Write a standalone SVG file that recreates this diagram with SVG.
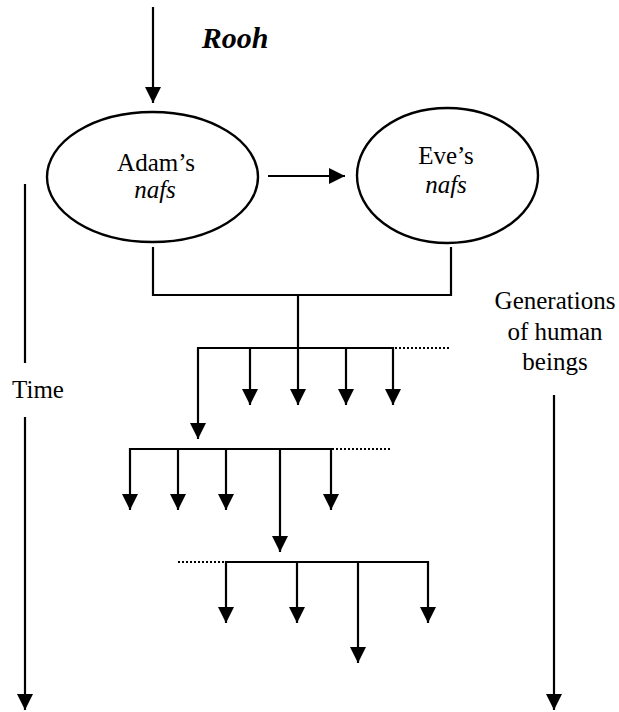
<svg xmlns="http://www.w3.org/2000/svg" width="619" height="712" viewBox="0 0 619 712">
<style>
.ln{stroke:#000;stroke-width:2.2;fill:none}
.ar{stroke:#000;stroke-width:2.2;fill:none;marker-end:url(#ah)}
.dot{stroke:#000;stroke-width:2;fill:none;stroke-dasharray:2 2}
.el{fill:#fff;stroke:#000;stroke-width:2.4}
text{font-family:"Liberation Serif","Times New Roman","DejaVu Serif",serif;font-size:25px;fill:#000;text-anchor:middle}
.i{font-style:italic}
.b{font-weight:bold;font-style:italic;font-size:30px}
</style>
<defs>
<marker id="ah" markerUnits="userSpaceOnUse" markerWidth="16" markerHeight="16" viewBox="0 0 15 15" refX="15" refY="7.5" orient="auto">
<path d="M0,0 L15,7.5 L0,15 Z" fill="#000"/>
</marker>
</defs>
<rect width="619" height="712" fill="#fff"/>
<g id="connectors">
<line class="ar" x1="153" y1="7" x2="153" y2="103"/>
<line class="ar" x1="268" y1="176" x2="345" y2="176"/>
<polyline class="ln" points="153,247 153,295 451,295 451,247"/>
<line class="ln" x1="298" y1="295" x2="298" y2="348"/>
<polyline class="ln" points="198,348 394,348"/>
<line class="dot" x1="395" y1="348" x2="451" y2="348"/>
<line class="ar" x1="198" y1="347" x2="198" y2="439"/>
<line class="ar" x1="250" y1="348" x2="250" y2="405"/>
<line class="ar" x1="298" y1="348" x2="298" y2="405"/>
<line class="ar" x1="346" y1="348" x2="346" y2="405"/>
<line class="ar" x1="393" y1="347" x2="393" y2="405"/>
<line class="ln" x1="129" y1="449" x2="331" y2="449"/>
<line class="dot" x1="332" y1="449" x2="390" y2="449"/>
<line class="ar" x1="130" y1="448" x2="130" y2="510"/>
<line class="ar" x1="178" y1="449" x2="178" y2="510"/>
<line class="ar" x1="226" y1="449" x2="226" y2="510"/>
<line class="ar" x1="331" y1="448" x2="331" y2="510"/>
<line class="ar" x1="280" y1="449" x2="280" y2="552"/>
<line class="dot" x1="178" y1="562" x2="226" y2="562"/>
<line class="ln" x1="226" y1="562" x2="429" y2="562"/>
<line class="ar" x1="226" y1="561" x2="226" y2="623"/>
<line class="ar" x1="297" y1="562" x2="297" y2="623"/>
<line class="ar" x1="428" y1="561" x2="428" y2="623"/>
<line class="ar" x1="358" y1="562" x2="358" y2="663"/>
<line class="ln" x1="25" y1="184" x2="25" y2="363"/>
<line class="ar" x1="25" y1="417" x2="25" y2="710"/>
<line class="ar" x1="554" y1="395" x2="554" y2="710"/>
</g>
<g id="rooh">
<text class="b" x="235" y="48">Rooh</text>
</g>
<g id="adam">
<ellipse class="el" cx="152.5" cy="177" rx="105.5" ry="65"/>
<text x="156" y="171">Adam’s</text>
<text class="i" x="155" y="198">nafs</text>
</g>
<g id="eve">
<ellipse class="el" cx="447.5" cy="175.5" rx="90.5" ry="67.5"/>
<text x="446" y="164">Eve’s</text>
<text class="i" x="446" y="193">nafs</text>
</g>
<g id="time">
<text x="38" y="398">Time</text>
</g>
<g id="generations">
<text x="555" y="309">Generations</text>
<text x="555" y="340">of human</text>
<text x="555" y="370">beings</text>
</g>
</svg>
